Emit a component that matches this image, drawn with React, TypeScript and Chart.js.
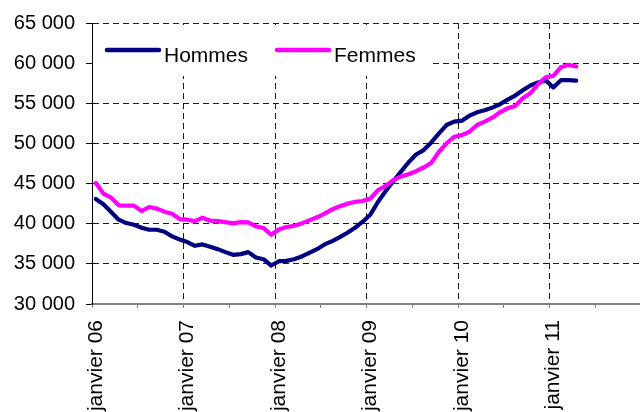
import React, { useEffect, useRef } from 'react';
import { Chart, registerables } from 'chart.js';

Chart.register(...registerables);

const YEARS = ['06', '07', '08', '09', '10', '11'];
const MONTHS = ['janvier', 'février', 'mars', 'avril', 'mai', 'juin', 'juillet', 'août', 'septembre', 'octobre', 'novembre', 'décembre'];
const CATEGORIES = YEARS.flatMap((y) => MONTHS.map((m) => `${m} ${y}`));

const HOMMES = [
  43080, 42420, 41460, 40500, 40080, 39875, 39500, 39250, 39250, 39000,
  38420, 38040, 37710, 37250, 37420, 37125, 36830, 36460, 36125, 36210,
  36460, 35790, 35580, 34790, 35330, 35375, 35580, 35920, 36375, 36830,
  37420, 37830, 38330, 38875, 39500, 40250, 41125, 42710, 44040, 45290,
  46460, 47625, 48625, 49170, 50125, 51250, 52290, 52710, 52830, 53460,
  53875, 54125, 54460, 54875, 55460, 55960, 56625, 57210, 57600, 57850,
  56960, 57880, 57880, 57830,
];

const FEMMES = [
  45080, 43750, 43250, 42290, 42250, 42250, 41580, 42080, 41875, 41500,
  41250, 40580, 40500, 40330, 40750, 40375, 40330, 40200, 40040, 40200,
  40170, 39670, 39460, 38630, 39290, 39580, 39750, 40040, 40420, 40800,
  41250, 41790, 42170, 42500, 42710, 42830, 43125, 44170, 44710, 45420,
  45875, 46170, 46540, 47000, 47580, 48960, 50000, 50830, 51040, 51460,
  52290, 52710, 53210, 53875, 54375, 54670, 55625, 56250, 57375, 58250,
  58420, 59500, 59790, 59580,
];

const SERIES_NAMES = ['Hommes', 'Femmes'];
const SERIES_COLORS = ['#000080', '#FF00FF'];
const Y_MIN = 30000;
const Y_MAX = 65000;
const Y_STEP = 5000;

const FONT_FAMILY = '"Liberation Sans", Arial, sans-serif';

const fmt = (v: number) => String(Math.round(v)).replace(/\B(?=(\d{3})+(?!\d))/g, ' ');

const insideLegend = {
  id: 'insideLegend',
  beforeDatasetsDraw(chart: any) {
    const { ctx, chartArea } = chart;
    const L = chartArea.left;
    const T = chartArea.top;
    ctx.save();
    ctx.fillStyle = '#ffffff';
    ctx.fillRect(L + 1, T + 2, 338, 51);
    const offsets = [15, 185];
    chart.data.datasets.forEach((ds: any, i: number) => {
      const x = L + offsets[i];
      ctx.strokeStyle = ds.borderColor;
      ctx.lineWidth = 4.5;
      ctx.lineCap = 'round';
      ctx.beginPath();
      ctx.moveTo(x, T + 27);
      ctx.lineTo(x + 52, T + 27);
      ctx.stroke();
      ctx.fillStyle = '#000';
      ctx.font = `21px ${FONT_FAMILY}`;
      ctx.textBaseline = 'alphabetic';
      ctx.textAlign = 'left';
      ctx.fillText(ds.label, x + 57, T + 38.7);
    });
    ctx.restore();
  },
};

export default function App() {
  const ref = useRef<HTMLCanvasElement | null>(null);

  useEffect(() => {
    if (!ref.current) return;
    Chart.defaults.font.family = FONT_FAMILY;
    Chart.defaults.font.size = 20;
    Chart.defaults.color = '#000';

    const chart = new Chart(ref.current, {
      type: 'line',
      data: {
        labels: CATEGORIES,
        datasets: [
          {
            label: SERIES_NAMES[0],
            data: HOMMES,
            borderColor: SERIES_COLORS[0],
            backgroundColor: SERIES_COLORS[0],
            order: 1,
          },
          {
            label: SERIES_NAMES[1],
            data: FEMMES,
            borderColor: SERIES_COLORS[1],
            backgroundColor: SERIES_COLORS[1],
            order: 0,
          },
        ],
      },
      options: {
        responsive: false,
        animation: false,
        layout: { padding: { top: 23, right: 19, left: 0, bottom: 0 } },
        plugins: { legend: { display: false }, tooltip: { enabled: false } },
        elements: {
          point: { radius: 0, hoverRadius: 0 },
          line: { tension: 0, borderWidth: 4.2, borderCapStyle: 'round', borderJoinStyle: 'round' },
        },
        scales: {
          x: {
            type: 'category',
            offset: true,
            grid: {
              offset: true,
              lineWidth: 1,
              color: (c: any) => (typeof c.index === 'number' && c.index > 0 && c.index % 12 === 0 ? '#1a1a1a' : 'transparent'),
              tickColor: (c: any) => (typeof c.index === 'number' && c.index % 6 === 0 ? '#808080' : 'transparent'),
              tickLength: 4,
              tickBorderDash: [],
            },
            border: { color: '#808080', width: 2, dash: [6, 4] },
            ticks: {
              autoSkip: false,
              maxRotation: 90,
              minRotation: 90,
              padding: 12,
              color: '#000',
              font: { size: 21, family: FONT_FAMILY },
              callback: function (this: any, value: any, index: number) {
                return index % 12 === 0 ? this.getLabelForValue(value) : '';
              },
            },
            afterFit: (scale: any) => {
              scale.height = 108;
              scale.paddingLeft = 0;
              scale.paddingRight = 0;
            },
          },
          y: {
            min: Y_MIN,
            max: Y_MAX,
            grid: {
              lineWidth: 1,
              color: (c: any) => (c.tick && c.tick.value === Y_MIN ? 'transparent' : '#1a1a1a'),
              tickColor: '#000',
              tickLength: 6,
              tickBorderDash: [],
            },
            border: { color: '#000', width: 1, dash: [6, 4] },
            ticks: {
              stepSize: Y_STEP,
              padding: 11,
              color: '#000',
              font: { size: 20, family: FONT_FAMILY },
              callback: (v: any) => fmt(Number(v)),
            },
            afterFit: (scale: any) => {
              scale.width = 92;
              scale.paddingTop = 0;
              scale.paddingBottom = 0;
            },
          },
        },
      },
      plugins: [insideLegend],
    });
    return () => chart.destroy();
  }, []);

  return (
    <div style={{ position: 'fixed', left: 0, top: 0, width: 640, height: 412, overflow: 'hidden', background: '#fff' }}>
      <canvas ref={ref} width={660} height={412} style={{ display: 'block', width: 660, height: 412 }} />
    </div>
  );
}
